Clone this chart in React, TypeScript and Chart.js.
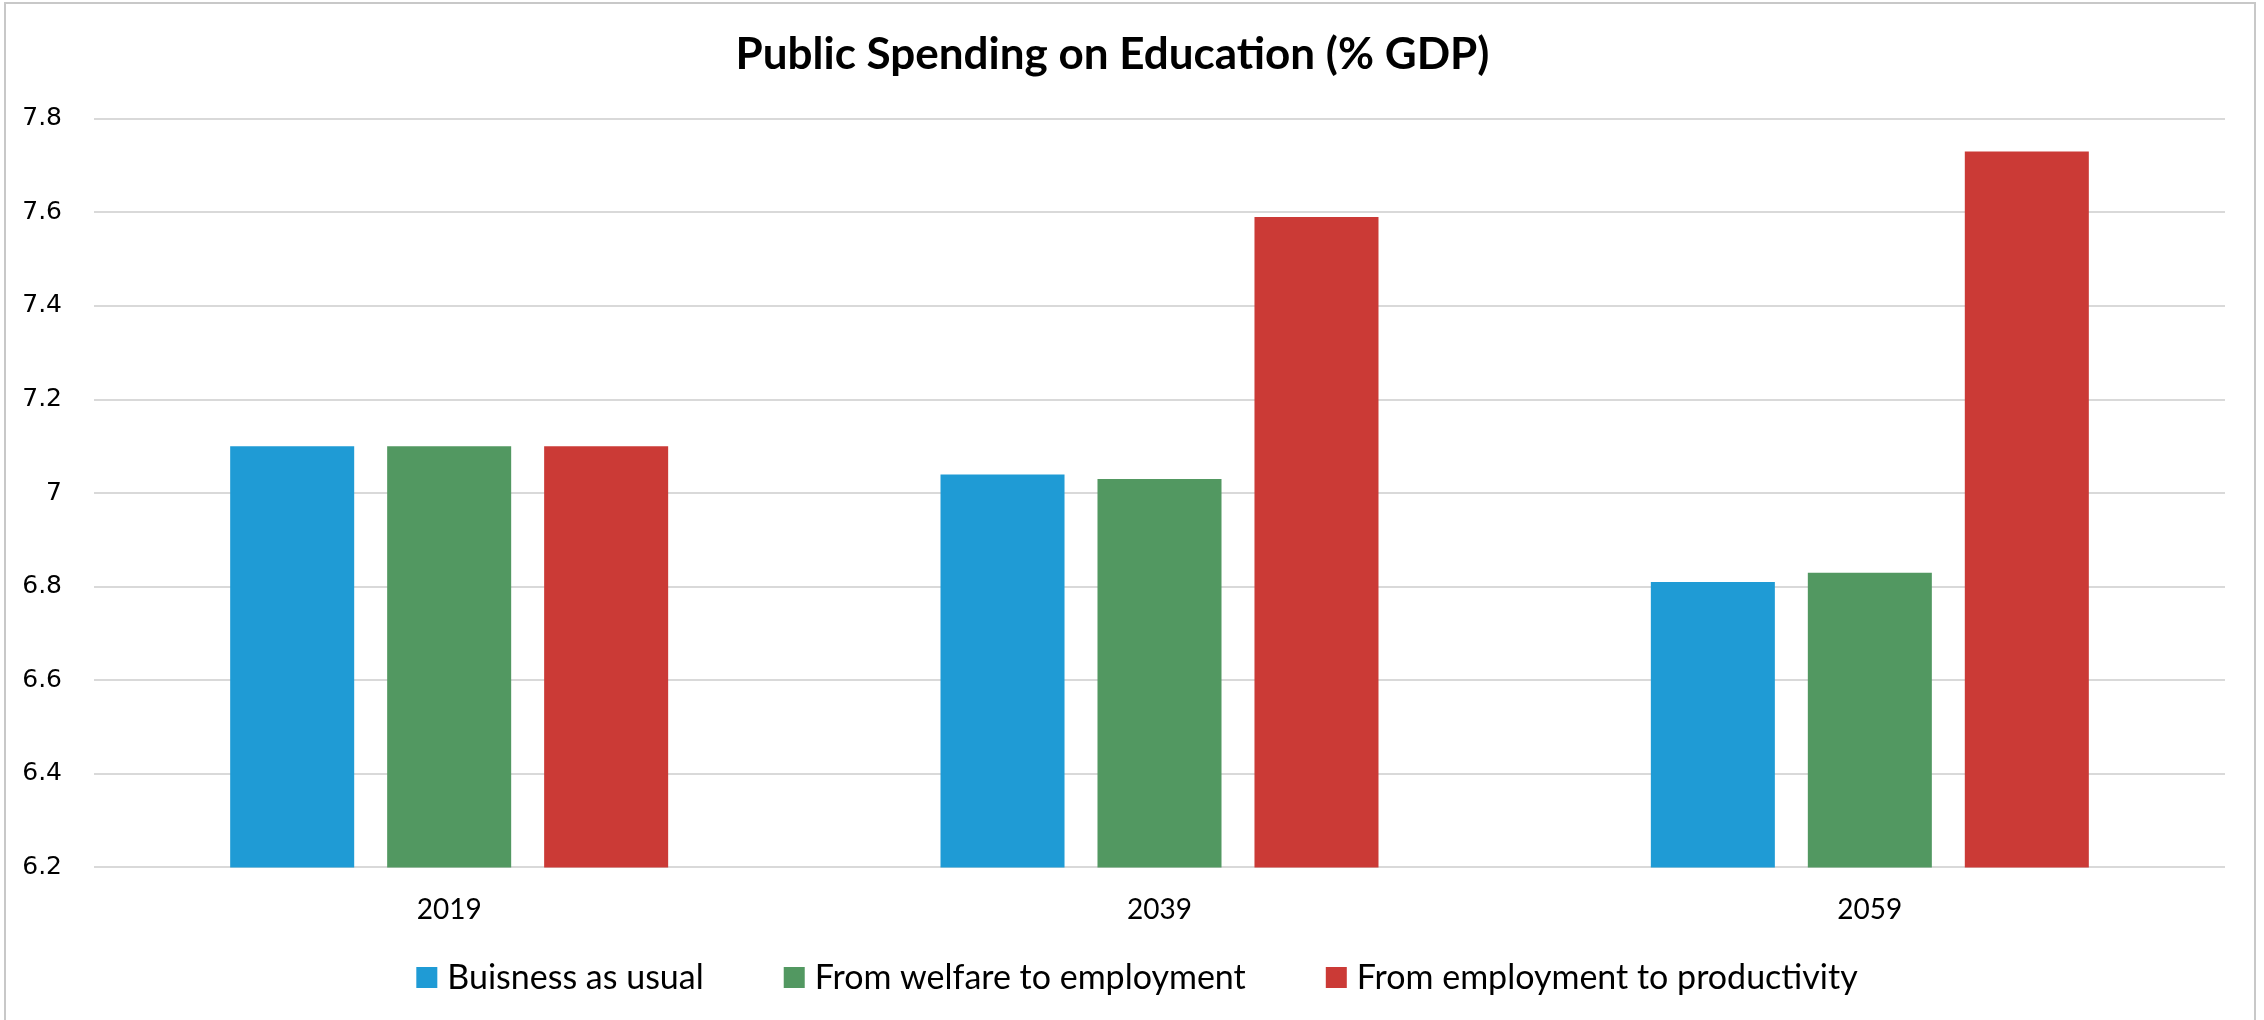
import React, { useEffect, useRef } from "react";
import { Chart, registerables } from "chart.js";

Chart.register(...registerables);

const titleText = "Public Spending on Education (% GDP)";
const categories = ["2019", "2039", "2059"];
const seriesNames = [
  "Buisness as usual",
  "From welfare to employment",
  "From employment to productivity",
];
const businessAsUsual = [7.1, 7.04, 6.81];
const welfareToEmployment = [7.1, 7.03, 6.83];
const employmentToProductivity = [7.1, 7.59, 7.73];
const seriesColors = ["#1F9BD5", "#529861", "#CB3A36"];
const yMin = 6.2;
const yMax = 7.8;
const yStep = 0.2;

const W = 2264;
const H = 1020;

const framePlugin = {
  id: "frame",
  afterDraw(chart: any) {
    const ctx = chart.ctx;
    ctx.save();
    ctx.strokeStyle = "#c8c8c8";
    ctx.lineWidth = 2;
    ctx.beginPath();
    ctx.moveTo(5, H + 5);
    ctx.lineTo(5, 3);
    ctx.lineTo(2255, 3);
    ctx.lineTo(2255, H + 5);
    ctx.stroke();
    ctx.restore();
  },
};

const legendPlugin = {
  id: "customLegend",
  afterDraw(chart: any) {
    const ctx = chart.ctx;
    const items = chart.data.datasets.map((d: any) => ({
      text: d.label,
      color: d.backgroundColor,
    }));
    ctx.save();
    ctx.font = "34px Lato";
    const box = 21;
    const gapText = 10;
    const gapItem = 80;
    const widths = items.map(
      (it: any) => box + gapText + ctx.measureText(it.text).width
    );
    const total =
      widths.reduce((a: number, b: number) => a + b, 0) +
      gapItem * (items.length - 1);
    let x = 1137 - total / 2;
    const y = 977.5;
    items.forEach((it: any, i: number) => {
      ctx.fillStyle = it.color;
      ctx.fillRect(x, y - box / 2, box, box);
      ctx.fillStyle = "#000";
      ctx.textBaseline = "middle";
      ctx.textAlign = "left";
      ctx.fillText(it.text, x + box + gapText, y + 1);
      x += widths[i] + gapItem;
    });
    ctx.restore();
  },
};

export default function App() {
  const canvasRef = useRef<HTMLCanvasElement | null>(null);

  useEffect(() => {
    document.body.style.margin = "0";
    const canvas = canvasRef.current;
    if (!canvas) return;
    const seriesValues = [businessAsUsual, welfareToEmployment, employmentToProductivity];
    const chart = new Chart(canvas, {
      type: "bar",
      data: {
        labels: categories,
        datasets: seriesNames.map((name, i) => ({
          label: name,
          data: seriesValues[i],
          backgroundColor: seriesColors[i],
          borderWidth: 0,
          categoryPercentage: 0.663,
          barPercentage: 0.79,
        })),
      },
      options: {
        responsive: false,
        animation: false,
        devicePixelRatio: 1,
        layout: { padding: { left: 0, right: 39, top: 0, bottom: 67 } },
        plugins: {
          legend: { display: false },
          tooltip: { enabled: false },
          title: {
            display: true,
            text: titleText,
            color: "#000",
            font: { family: "Lato", weight: "bold", size: 44, lineHeight: 1.2 },
            padding: { top: 28, bottom: 38 },
          },
        },
        scales: {
          x: {
            grid: { display: false, drawTicks: false },
            border: { display: false },
            ticks: {
              color: "#000",
              padding: 26,
              font: { family: "Lato", size: 28, lineHeight: 1.2 },
            },
          },
          y: {
            min: yMin,
            max: yMax,
            afterFit(scale: any) {
              scale.width = 94;
            },
            grid: {
              color: "#d9d9d9",
              lineWidth: 2,
              drawTicks: false,
            },
            border: { display: false },
            ticks: {
              stepSize: yStep,
              color: "#000",
              padding: 32,
              font: { family: "DejaVu Sans", size: 25 },
              callback: (v: any) => String(Number(Number(v).toFixed(1))),
            },
          },
        },
      },
      plugins: [framePlugin, legendPlugin],
    });
    return () => chart.destroy();
  }, []);

  return (
    <div style={{ width: W, height: H, position: "relative", overflow: "hidden", background: "#fff" }}>
      <canvas ref={canvasRef} width={W} height={H} style={{ width: W, height: H, display: "block" }} />
    </div>
  );
}
